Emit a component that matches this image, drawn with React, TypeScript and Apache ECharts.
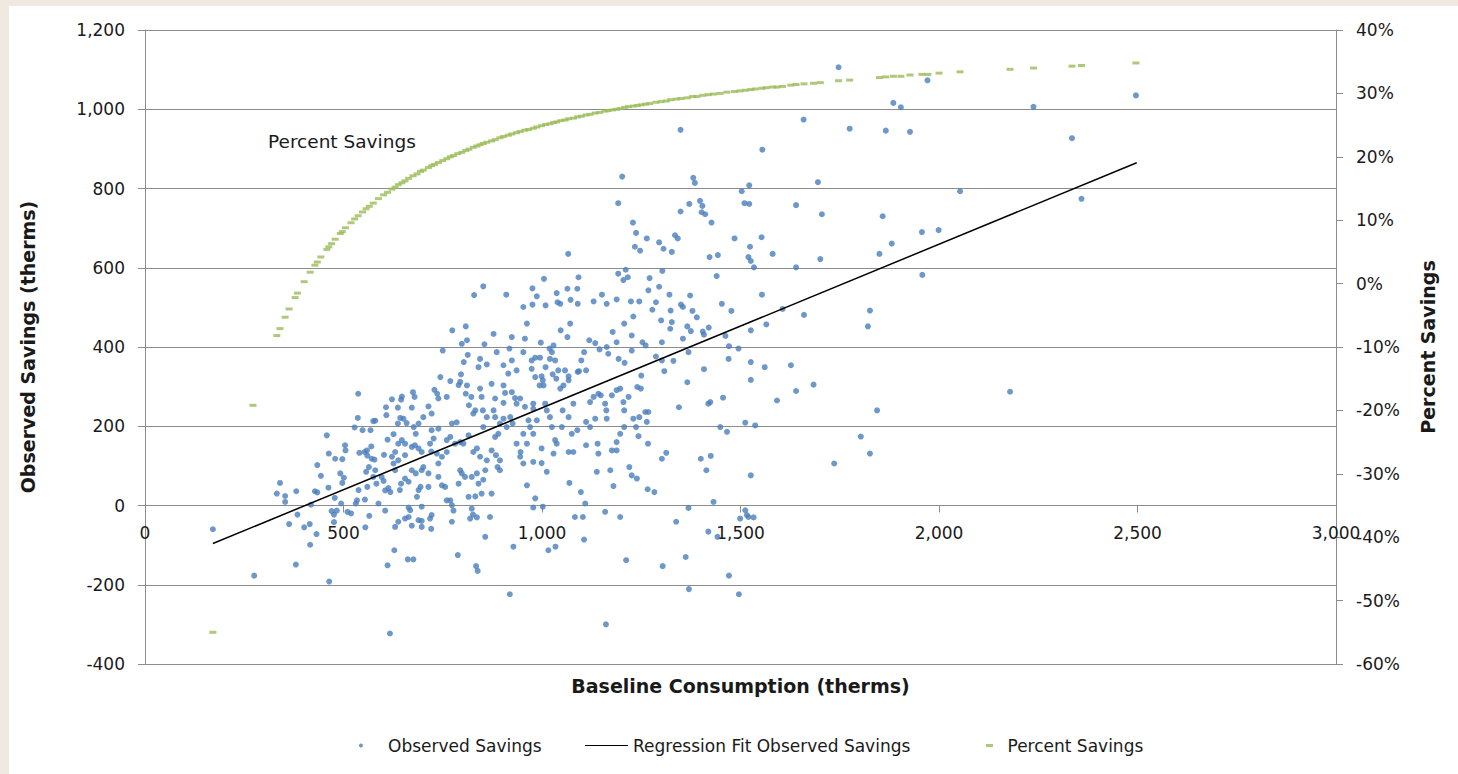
import React, { useEffect, useRef } from "react";
import * as echarts from "echarts";

// Observed savings: [baseline consumption (therms), observed savings (therms)]
const observedSavings: [number, number][] = [
  [171,-60],[275,-177],[380,-149],[464,-192],[617,-323],[838,-165],[919,-224],[1161,-300],[1370,-211],[1471,-177],[1496,-224],
  [340,57],[332,30],[353,24],[353,9],[381,36],[363,-47],[384,-23],[401,-55],[415,-47],[416,-99],[432,-72],[418,2],[428,36],
  [434,33],[434,102],[443,75],[458,177],[463,131],[462,45],[479,118],[497,117],[492,81],[501,70],[497,57],[504,152],[505,139],
  [478,19],[476,-23],[470,-14],[476,-42],[483,-13],[510,-16],[519,-20],[494,5],[537,282],[536,221],[528,197],[548,190],[568,190],
  [575,213],[580,214],[540,133],[553,135],[559,139],[570,149],[560,126],[571,118],[578,116],[564,97],[557,85],[580,89],[575,72],
  [583,55],[538,39],[534,13],[531,5],[554,15],[560,47],[588,5],[596,72],[601,62],[605,38],[613,44],[618,34],[605,-13],[565,-26],
  [555,-55],[602,128],[611,166],[608,228],[607,248],[622,268],[626,180],[637,247],[645,267],[647,275],[643,221],[637,207],[651,219],
  [659,208],[675,286],[679,274],[672,247],[677,198],[682,181],[689,207],[701,223],[714,250],[722,232],[729,292],[736,282],[739,270],
  [760,274],[769,314],[744,324],[750,391],[774,442],[808,452],[798,408],[811,417],[813,380],[803,362],[840,349],[829,531],[796,331],
  [794,312],[790,304],[811,303],[808,282],[816,253],[822,274],[827,232],[832,240],[844,295],[773,207],[785,210],[769,173],[760,165],
  [739,194],[722,190],[727,169],[718,156],[721,136],[735,131],[739,106],[714,81],[701,97],[697,89],[682,81],[672,89],[655,68],
  [664,60],[645,55],[642,39],[630,89],[638,114],[655,127],[672,148],[680,152],[689,144],[697,135],[655,156],[647,165],[638,156],
  [630,135],[622,123],[626,106],[694,47],[689,39],[685,22],[714,47],[739,72],[748,51],[756,47],[760,13],[769,13],[773,1],[777,-13],
  [794,89],[798,81],[806,72],[823,72],[836,81],[840,55],[815,22],[832,23],[790,55],[748,123],[760,135],[781,156],[794,160],[802,156],
  [815,177],[827,135],[836,144],[844,123],[697,-3],[722,-24],[721,-59],[697,-39],[689,-37],[672,-51],[664,-29],[655,-33],[638,-41],
  [630,-54],[628,-113],[611,-151],[662,-136],[676,-136],[773,-41],[788,-125],[834,-153],[826,-23],[836,-30],[819,-33],[823,-8],
  [664,-5],[668,-12],[697,-54],[718,-33],
  [852,553],[910,532],[976,548],[987,528],[976,507],[953,501],[1009,505],[1037,536],[1039,513],[1046,509],[1072,519],[1090,509],
  [1130,515],[1151,532],[1163,509],[1188,520],[1224,515],[1245,515],[1287,513],[1278,494],[1321,532],[1324,492],[1300,467],[1327,463],
  [1323,446],[1350,507],[1355,501],[1373,530],[1379,491],[1390,475],[1366,452],[1375,440],[1405,439],[1408,431],[1420,449],[1453,509],
  [1477,491],[1554,532],[1606,496],[1660,481],[1565,457],[1526,442],[1462,428],[1471,402],[1495,396],[1355,421],[1369,387],[1331,365],
  [1308,339],[1302,366],[1302,412],[1287,376],[1261,404],[1253,412],[1250,328],[1226,391],[1208,360],[1193,370],[1188,412],[1178,438],
  [1207,459],[1230,477],[1226,429],[1167,383],[1163,400],[1145,394],[1134,410],[1119,417],[1106,387],[1093,339],[1111,341],[1099,366],
  [1090,337],[1067,326],[1071,459],[1047,442],[1064,425],[1029,404],[1019,396],[1025,387],[1033,366],[1020,370],[1009,349],[999,326],
  [995,373],[983,373],[974,366],[974,345],[983,324],[1002,316],[994,303],[1004,303],[1027,331],[1036,320],[1041,341],[1058,341],
  [1067,316],[1054,303],[1046,295],[997,411],[957,421],[962,459],[924,425],[918,396],[924,366],[886,387],[878,433],[855,407],
  [844,370],[861,356],[903,354],[915,333],[936,341],[953,387],[873,307],[903,303],[924,286],[932,271],[936,257],[945,270],[907,284],
  [903,259],[882,270],[878,240],[848,274],[851,240],[861,223],[852,198],[882,223],[903,219],[920,223],[926,207],[911,198],[894,207],
  [890,181],[882,173],[873,139],[884,127],[894,114],[888,97],[894,89],[861,114],[857,89],[852,65],[848,30],[873,30],[869,-29],
  [857,-79],[928,-104],[945,123],[953,106],[962,51],[978,110],[983,18],[978,-5],[1002,-3],[1016,-113],[1034,-104],[1012,85],[999,107],
  [999,144],[978,181],[953,181],[936,156],[946,135],[962,156],[970,198],[987,215],[966,215],[957,249],[978,257],[978,244],[1008,257],
  [1012,240],[1020,223],[1025,198],[1033,165],[1037,156],[1029,131],[1050,198],[1052,240],[1067,223],[1079,257],[1075,181],[1067,135],
  [1069,57],[1083,-29],[1098,34],[1103,-29],[1109,5],[1106,-86],[1111,152],[1111,211],[1121,261],[1130,274],[1142,282],[1148,278],
  [1159,257],[1162,240],[1176,278],[1188,291],[1197,295],[1205,261],[1207,240],[1218,274],[1240,299],[1249,295],[1260,236],[1268,236],
  [1245,223],[1237,198],[1243,175],[1264,211],[1267,156],[1230,219],[1207,198],[1197,181],[1188,160],[1176,139],[1188,139],[1140,156],
  [1142,131],[1163,219],[1134,219],[1121,198],[1089,190],[1079,135],[1138,85],[1172,89],[1180,49],[1159,-16],[1197,-29],[1220,97],
  [1226,76],[1239,68],[1266,41],[1283,34],[1302,118],[1313,133],[1338,-41],[1345,248],[1366,311],[1369,-6],[1362,-130],[1400,118],
  [1414,89],[1425,125],[1419,257],[1424,261],[1408,344],[1449,198],[1466,186],[1456,272],[1432,9],[1419,-66],[1442,-79],[1499,-33],
  [1512,-12],[1516,-24],[1520,-29],[1533,-30],[1526,76],[1512,209],[1537,202],[1526,317],[1526,362],[1561,349],[1592,265],[1627,354],
  [1640,289],[1684,305],[1470,370],[1212,-138],[1304,-153],
  [1826,492],[1821,452],[1844,240],[1803,174],[1826,131],[1736,106],
  [1747,1106],[1971,1073],[1885,1016],[1904,1005],[1659,974],[1775,951],[1866,946],[1927,943],[1349,948],[1555,898],[1202,830],
  [1381,827],[1385,814],[1522,808],[1503,793],[1695,816],[1192,763],[1371,761],[1398,769],[1404,756],[1402,740],[1411,735],[1349,742],
  [1510,763],[1522,761],[1640,758],[1705,735],[1858,730],[1427,714],[1229,714],[1237,688],[1264,674],[1335,682],[1342,674],[1485,674],
  [1553,677],[1295,664],[1234,653],[1247,643],[1306,648],[1327,640],[1524,653],[1881,661],[1957,690],[1999,695],[1066,635],[1422,627],
  [1443,632],[1520,627],[1526,617],[1534,601],[1581,635],[1640,601],[1701,622],[1850,635],[1192,585],[1211,595],[1205,569],[1216,576],
  [1271,574],[1303,592],[1440,579],[1958,582],[1005,572],[1092,576],[1064,547],[1089,547],[1268,543],[1295,552],
  [2238,1006],[2496,1035],[2335,927],[2053,793],[2359,774],[2179,287],
];

// Regression fit line end points: [baseline, fitted savings]
const regressionFit: [number, number][] = [
  [171, -96],
  [2498, 865],
];

// Percent savings: [baseline, percent]
const percentSavings: [number, number][] = [
  [171,-55.0],[272,-19.2],[332,-8.2],[340,-7.1],[353,-5.3],[363,-4.0],[378,-2.2],[384,-1.5],[401,0.3],[416,1.8],[428,2.9],
  [434,3.4],[443,4.2],[458,5.4],[463,5.8],[470,6.3],[479,7.0],[492,7.9],[497,8.2],[505,8.8],[519,9.6],[528,10.2],[537,10.7],
  [548,11.3],[557,11.8],[565,12.2],[575,12.7],[588,13.4],[601,14.0],[611,14.4],[622,14.9],[630,15.2],[638,15.6],[647,15.9],
  [655,16.2],[664,16.6],[675,17.0],[685,17.3],[694,17.7],[701,17.9],[714,18.3],[722,18.6],[729,18.8],[739,19.1],[750,19.4],
  [760,19.7],[769,20.0],[777,20.2],[788,20.5],[798,20.7],[808,21.0],[816,21.2],[827,21.5],[836,21.7],[844,21.9],[852,22.1],
  [861,22.3],[873,22.5],[882,22.7],[894,23.0],[903,23.2],[915,23.4],[924,23.6],[936,23.8],[945,24.0],[957,24.2],[966,24.3],
  [978,24.5],[987,24.7],[999,24.9],[1009,25.1],[1020,25.2],[1029,25.4],[1037,25.5],[1047,25.7],[1058,25.8],[1067,26.0],
  [1079,26.1],[1090,26.3],[1099,26.4],[1111,26.6],[1121,26.7],[1134,26.9],[1145,27.0],[1159,27.2],[1167,27.3],[1178,27.4],
  [1188,27.5],[1197,27.6],[1208,27.8],[1218,27.9],[1230,28.0],[1240,28.1],[1250,28.2],[1261,28.3],[1271,28.4],[1287,28.6],
  [1300,28.7],[1313,28.8],[1324,29.0],[1338,29.1],[1350,29.2],[1366,29.3],[1379,29.5],[1390,29.5],[1405,29.7],[1419,29.8],
  [1432,29.9],[1449,30.0],[1466,30.2],[1485,30.3],[1499,30.4],[1512,30.5],[1526,30.6],[1537,30.7],[1554,30.8],[1565,30.9],
  [1581,31.0],[1592,31.0],[1606,31.1],[1627,31.3],[1640,31.4],[1660,31.5],[1684,31.6],[1701,31.7],[1747,32.0],[1775,32.1],
  [1850,32.5],[1866,32.6],[1885,32.7],[1904,32.7],[1927,32.9],[1957,33.0],[1972,33.0],[2000,33.2],[2053,33.4],[2179,33.8],
  [2238,34.0],[2335,34.3],[2359,34.4],[2496,34.8],
];

const seriesNames = ["Observed Savings", "Regression Fit Observed Savings", "Percent Savings"];
const axisTitles = {
  x: "Baseline Consumption (therms)",
  yLeft: "Observed Savings (therms)",
  yRight: "Percent Savings",
};
const annotationText = "Percent Savings";

// axis ranges
const xRange = { min: 0, max: 3000, interval: 500 };
const yRange = { min: -400, max: 1200, interval: 200 };
const pctRange = { min: -60, max: 40, interval: 10 };

const W = 1458;
const H = 774;
const GRID = { left: 145, right: 122, top: 30, bottom: 110 };

const FONT = "'DejaVu Sans', sans-serif";
const TEXT = "#1a1a1a";
const AXIS = "#8c8c8c";
const BLUE = "#4A7EBB";
const GREEN = "#9BBB59";

export default function App() {
  const ref = useRef<HTMLDivElement>(null);

  useEffect(() => {
    if (!ref.current) return;
    const chart = echarts.init(ref.current, null, { renderer: "svg" });
    const plotH = H - GRID.top - GRID.bottom;
    // put the x axis where savings = 0 (as the reference does)
    const xAxisOffset = -plotH * (0 - yRange.min) / (yRange.max - yRange.min);
    const legendBase = {
      top: 737,
      padding: 0,
      itemGap: 0,
      selectedMode: false,
      textStyle: { fontSize: 17, color: TEXT, fontFamily: FONT },
    };
    const titleStyle = { fontSize: 19, fontWeight: "bold", color: TEXT, fontFamily: FONT };
    chart.setOption({
      animation: false,
      textStyle: { fontFamily: FONT },
      grid: { ...GRID, containLabel: false },
      xAxis: {
        type: "value",
        ...xRange,
        position: "bottom",
        offset: xAxisOffset,
        name: axisTitles.x,
        nameLocation: "middle",
        nameGap: 171,
        nameTextStyle: titleStyle,
        axisLine: { show: true, onZero: false, lineStyle: { color: AXIS, width: 1 } },
        axisTick: { show: true, inside: false, length: 7, lineStyle: { color: AXIS } },
        axisLabel: {
          fontSize: 17,
          color: TEXT,
          margin: 19,
          formatter: (v: number) => v.toLocaleString("en-US"),
        },
        splitLine: { show: false },
      },
      yAxis: [
        {
          type: "value",
          position: "left",
          ...yRange,
          name: axisTitles.yLeft,
          nameLocation: "middle",
          nameGap: 108,
          nameTextStyle: titleStyle,
          axisLine: { show: true, onZero: false, lineStyle: { color: AXIS, width: 1 } },
          axisTick: { show: true, inside: false, length: 7, lineStyle: { color: AXIS } },
          axisLabel: {
            fontSize: 17,
            color: TEXT,
            margin: 20,
            formatter: (v: number) => v.toLocaleString("en-US"),
          },
          splitLine: { show: true, lineStyle: { color: AXIS, width: 1 } },
        },
        {
          type: "value",
          position: "right",
          ...pctRange,
          name: axisTitles.yRight,
          nameLocation: "middle",
          nameGap: 82,
          nameTextStyle: titleStyle,
          axisLine: { show: true, onZero: false, lineStyle: { color: AXIS, width: 1 } },
          axisTick: { show: true, inside: false, length: 7, lineStyle: { color: AXIS } },
          axisLabel: { fontSize: 17, color: TEXT, margin: 20, formatter: "{value}%" },
          splitLine: { show: false },
        },
      ],
      legend: [
        { ...legendBase, left: 359, itemWidth: 44, itemHeight: 4, data: [{ name: seriesNames[0], icon: "circle" }] },
        { ...legendBase, left: 585, itemWidth: 43, itemHeight: 2, data: [{ name: seriesNames[1], icon: "path://M0,0h43v1.2h-43z" }] },
        { ...legendBase, left: 986, itemWidth: 26, itemHeight: 3, data: [{ name: seriesNames[2], icon: "path://M0,0h7v3h-7z" }] },
      ],
      graphic: [
        {
          type: "text",
          left: 268,
          top: 132,
          style: { text: annotationText, fontSize: 18.5, fill: TEXT, fontFamily: FONT },
        },
      ],
      series: [
        {
          name: seriesNames[0],
          type: "scatter",
          data: observedSavings,
          symbol: "circle",
          symbolSize: 6,
          itemStyle: { color: BLUE },
          z: 2,
        },
        {
          name: seriesNames[1],
          type: "line",
          data: regressionFit,
          symbol: "none",
          itemStyle: { color: "#000000" },
          lineStyle: { color: "#000000", width: 1.5 },
          z: 3,
        },
        {
          name: seriesNames[2],
          type: "scatter",
          yAxisIndex: 1,
          data: percentSavings,
          symbol: "rect",
          symbolSize: [7, 3],
          itemStyle: { color: GREEN },
          z: 4,
        },
      ],
    });
    return () => chart.dispose();
  }, []);

  return (
    <div style={{ position: "fixed", left: 0, top: 0, width: W, height: H, background: "#EFE9E0" }}>
      <div style={{ position: "absolute", left: 9, top: 6, right: 0, bottom: 0, background: "#ffffff" }} />
      <div ref={ref} style={{ position: "absolute", left: 0, top: 0, width: W, height: H }} />
    </div>
  );
}
